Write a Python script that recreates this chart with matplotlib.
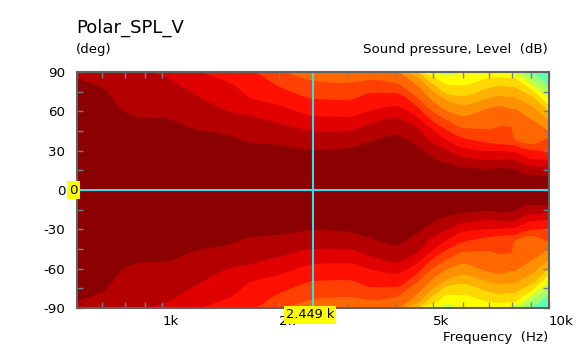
import matplotlib as mpl
mpl.rcParams["font.family"] = "DejaVu Sans"
mpl.rcParams["font.size"] = 9.6
mpl.rcParams["axes.unicode_minus"] = False
import numpy as np
import matplotlib.pyplot as plt
from matplotlib.path import Path
from matplotlib.patches import PathPatch

# boundary angle of each level band per frequency
freq = [600, 700, 800, 900, 1000, 1200, 1500, 1700, 2000, 2500, 3000, 3500,
        4000, 4500, 5000, 5500, 6000, 7000, 7500, 8000, 8100, 8500, 9000, 10000]

b1 = [85, 78, 59.5, 55, 55, 47, 41.2, 36, 34.3, 30.5, 32, 37.4,
      42, 34.3, 25, 20, 17.5, 16, 17, 16, 16, 13, 11.4, 11.4]
b2 = [90, 90, 90, 90, 87, 74, 59.5, 56.4, 51, 45, 45, 51,
      55, 48.8, 36, 30, 25, 23, 23.6, 23.6, 23.6, 20.6, 18.3, 17.5]
b3 = [90, 90, 90, 90, 90, 90, 81.6, 70, 64.8, 56.4, 55.7, 61,
      64, 57, 45.8, 37.4, 32, 29.7, 29.7, 29, 29, 26.7, 23.6, 22.9]
b4 = [90, 90, 90, 90, 90, 90, 90, 90, 79, 69.4, 68.6, 74,
      74, 65, 52.6, 45, 39.7, 35.9, 35, 34.3, 34.3, 32, 30.5, 29.7]
b5 = [90, 90, 90, 90, 90, 90, 90, 90, 90, 83, 81.6, 84,
      81.6, 71.7, 60, 52.6, 47.3, 46.5, 48.8, 48, 39.7, 36.6, 35, 39.7]
b6 = [90, 90, 90, 90, 90, 90, 90, 90, 90, 90, 90, 90,
      90, 81, 67.9, 60, 56.4, 62.5, 64, 61.8, 61.8, 58.7, 54, 45]
b7 = [90, 90, 90, 90, 90, 90, 90, 90, 90, 90, 90, 90,
      90, 87, 75.5, 67.9, 64.8, 70, 71.7, 71, 71, 67.9, 64, 53.4]
b8 = [90, 90, 90, 90, 90, 90, 90, 90, 90, 90, 90, 90,
      90, 90, 80.9, 73, 71.7, 77.8, 79.3, 78.6, 78.6, 75.5, 71.7, 60]
b9 = [90, 90, 90, 90, 90, 90, 90, 90, 90, 90, 90, 90,
      90, 90, 87, 80, 80, 85.4, 86, 85.4, 85.4, 81.6, 77, 64.8]
b10 = [90, 90, 90, 90, 90, 90, 90, 90, 90, 90, 90, 90,
       90, 90, 90, 87, 90, 90, 90, 90, 89, 85.4, 80, 70]
b11 = [90, 90, 90, 90, 90, 90, 90, 90, 90, 90, 90, 90,
       90, 90, 90, 90, 90, 90, 90, 90, 90, 89, 84, 75.5]
b12 = [90, 90, 90, 90, 90, 90, 90, 90, 90, 90, 90, 90,
       90, 90, 90, 90, 90, 90, 90, 90, 90, 90, 89, 80]

colors = ['#a0ff70', '#c8ff40', '#ffff00', '#ffd800', '#ffb000', '#ff9000',
          '#ff6800', '#ff4000', '#ff1000', '#e00000', '#b50000', '#8b0000']
bands = [b12, b11, b10, b9, b8, b7, b6, b5, b4, b3, b2, b1]

x_ticks = [1000, 2000, 5000, 10000]
x_labels = ['1k', '2k', '5k', '10k']
x_minor = [600, 700, 800, 900, 3000, 4000, 6000, 7000, 8000, 9000]
y_ticks = [-90, -60, -30, 0, 30, 60, 90]
y_minor = [-75, -45, -15, 15, 45, 75]
cursor_freq = 2449
cursor_angle = 0


def band_path(f, b):
    # smooth bezier edge through the read points (monotone tangents), mirrored about 0 deg
    u = np.log10(f)
    b = np.array(b, dtype=float)
    h = np.diff(u)
    s = np.diff(b) / h
    m = np.zeros(len(b))
    for i in range(1, len(b) - 1):
        if s[i - 1] * s[i] > 0:
            m[i] = 2 * s[i - 1] * s[i] / (s[i - 1] + s[i])
    m[0], m[-1] = s[0], s[-1]
    c1x, c1y = u[:-1] + h / 3, b[:-1] + m[:-1] * h / 3
    c2x, c2y = u[1:] - h / 3, b[1:] - m[1:] * h / 3
    vx, vy, codes = [u[0]], [b[0]], [Path.MOVETO]
    for i in range(len(h)):
        vx += [c1x[i], c2x[i], u[i + 1]]
        vy += [c1y[i], c2y[i], b[i + 1]]
        codes += [Path.CURVE4] * 3
    vx = np.array(vx)
    vy = np.array(vy)
    verts = np.column_stack([np.r_[vx, vx[::-1]], np.r_[vy, -vy[::-1]]])
    codes = codes + [Path.LINETO] + codes[1:]
    verts[:, 0] = 10 ** verts[:, 0]
    return Path(verts, codes)


W, H = 584, 351
fig = plt.figure(figsize=(W / 100, H / 100), dpi=100)
ax = fig.add_axes([76.5 / W, (H - 308) / H, 472.5 / W, 236 / H])
ax.set_facecolor('#60ffb0')

ax.set_xscale('log')
for b, c in zip(bands, colors):
    ax.add_patch(PathPatch(band_path(freq, b), facecolor=c, edgecolor='none', lw=0))

ax.set_xlim(600, 10000)
ax.set_ylim(-90, 90)
ax.set_xticks(x_ticks)
ax.set_xticklabels(x_labels, ha='left')
ax.set_xticks(x_minor, minor=True)
ax.set_xticklabels([], minor=True)
ax.set_yticks(y_ticks)
ax.set_yticks(y_minor, minor=True)
ax.tick_params(which='both', direction='in', top=True, right=True, color='#708090',
               length=4, width=1)
ax.tick_params(axis='x', pad=5)
ax.tick_params(axis='y', pad=8)
for s in ax.spines.values():
    s.set_color('#606060')
    s.set_linewidth(1.5)
    s.set_zorder(5)

ax.axvline(cursor_freq, color='#38dcf0', lw=1.5, zorder=4)
ax.axhline(cursor_angle, color='#38dcf0', lw=1.5, zorder=4)


def px(x, y):
    return x / W, 1 - y / H


fig.text(*px(76, 28), 'Polar_SPL_V', fontsize=13, va='center')
fig.text(*px(76, 50), '(deg)', va='center')
fig.text(*px(548, 50), 'Sound pressure, Level  (dB)', va='center', ha='right')
fig.text(*px(548, 337), 'Frequency  (Hz)', va='center', ha='right')
fig.text(*px(73.5, 190), '0', va='center', ha='center', zorder=6,
         bbox=dict(fc='#ffff00', ec='none', pad=1.5))
fig.text(*px(310, 315), '2.449 k', fontsize=9.3, va='center', ha='center', zorder=6,
         bbox=dict(fc='#ffff00', ec='none', pad=1.5))

fig.savefig('out.png', dpi=100)
